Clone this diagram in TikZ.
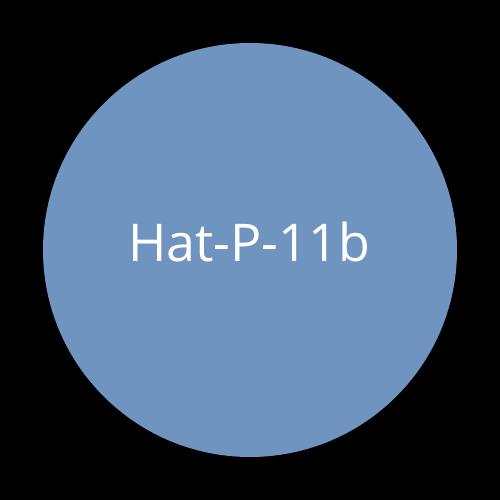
\documentclass[tikz,border=0pt]{standalone}
\usepackage{fontspec}
\setmainfont{Open Sans}
\definecolor{planet}{RGB}{112,148,192}
\begin{document}
\begin{tikzpicture}[x=1pt,y=1pt]
\fill[black] (0,0) rectangle (500,500);
\useasboundingbox (0,0) rectangle (500,500);
\node[circle,fill=planet,minimum size=414pt,inner sep=0pt] (p) at (250,250) {};
\node[text=white,font=\fontsize{52}{62}\selectfont,inner sep=0pt,anchor=base] (t) at (249,238) {Hat-P-11b};
\end{tikzpicture}
\end{document}
